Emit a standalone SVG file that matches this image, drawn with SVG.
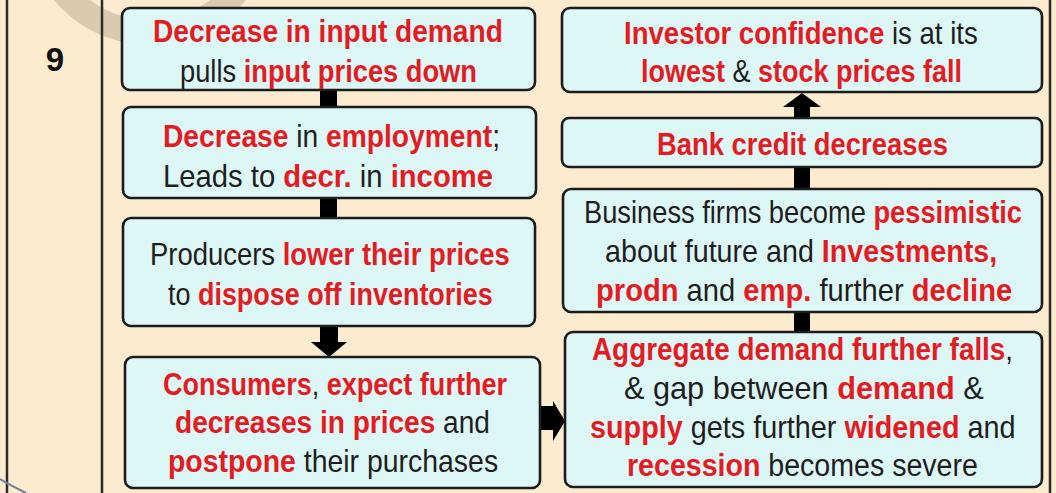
<svg xmlns="http://www.w3.org/2000/svg" width="1056" height="493" viewBox="0 0 1056 493">
<style>
.bg{fill:#fcebcf}
.frame{stroke:#2e2a26;stroke-width:2.5;fill:none}
.box{fill:#ddf6f6;stroke:#1c1c1c;stroke-width:2.6}
.t{font-family:"Liberation Sans",Arial,sans-serif;font-size:31px}
.r{fill:#e41b22;font-weight:bold}
.k{fill:#1e1e1e;font-weight:normal}
.bar{fill:#000}
.num{font-family:"Liberation Sans",Arial,sans-serif;font-size:33px;font-weight:bold;fill:#111;text-anchor:middle}
</style>
<rect class="bg" x="0" y="0" width="1056" height="493"/>
<g id="decor">
<circle cx="150" cy="-80" r="112.5" fill="none" stroke="#dbcab0" stroke-width="25"/>
<line class="frame" x1="7" y1="0" x2="7" y2="493"/>
<line class="frame" x1="102" y1="0" x2="102" y2="493" stroke-width="2"/>
<line class="frame" x1="1050" y1="0" x2="1050" y2="493"/>
<path d="M0,479 Q12,486 26,493" fill="none" stroke="#6f7f9e" stroke-width="2"/>
<text class="num" x="55" y="71">9</text>
</g>
<g id="connectors">
<rect class="bar" x="320" y="89" width="17" height="19"/>
<rect class="bar" x="320" y="197" width="17" height="22"/>
<rect class="bar" x="320" y="325" width="18" height="18"/>
<polygon class="bar" points="311,342 347,342 329,357"/>
<rect class="bar" x="539" y="406" width="15" height="24"/>
<polygon class="bar" points="553,401 553,441 565,421"/>
<rect class="bar" x="794" y="166" width="16" height="24"/>
<rect class="bar" x="794" y="311" width="16" height="22"/>
<rect class="bar" x="794" y="105" width="16" height="14"/>
<polygon class="bar" points="783,107 821,107 802,93"/>
</g>
<g id="node-input-demand">
<rect class="box" x="122" y="8" width="413" height="82" rx="8"/>
<text class="t" transform="translate(153,42) scale(0.907,1)"><tspan class="r">Decrease in input demand</tspan></text>
<text class="t" transform="translate(180,82) scale(0.880,1)"><tspan class="k">pulls </tspan><tspan class="r">input prices down</tspan></text>
</g>
<g id="node-employment">
<rect class="box" x="123" y="107" width="413" height="91" rx="8"/>
<text class="t" transform="translate(163,147) scale(0.910,1)"><tspan class="r">Decrease</tspan><tspan class="k"> in </tspan><tspan class="r">employment</tspan><tspan class="k">;</tspan></text>
<text class="t" transform="translate(163,187) scale(0.944,1)"><tspan class="k">Leads to </tspan><tspan class="r">decr.</tspan><tspan class="k"> in </tspan><tspan class="r">income</tspan></text>
</g>
<g id="node-producers">
<rect class="box" x="123" y="218" width="412" height="108" rx="8"/>
<text class="t" transform="translate(150,265) scale(0.885,1)"><tspan class="k">Producers </tspan><tspan class="r">lower their prices</tspan></text>
<text class="t" transform="translate(168,305) scale(0.869,1)"><tspan class="k">to </tspan><tspan class="r">dispose off inventories</tspan></text>
</g>
<g id="node-consumers">
<rect class="box" x="125" y="357" width="415" height="131" rx="8"/>
<text class="t" transform="translate(163,395) scale(0.872,1)"><tspan class="r">Consumers</tspan><tspan class="k">, </tspan><tspan class="r">expect further</tspan></text>
<text class="t" transform="translate(175,433) scale(0.905,1)"><tspan class="r">decreases in prices</tspan><tspan class="k"> and</tspan></text>
<text class="t" transform="translate(168,472) scale(0.917,1)"><tspan class="r">postpone</tspan><tspan class="k"> their purchases</tspan></text>
</g>
<g id="node-investor">
<rect class="box" x="562" y="8" width="480" height="84" rx="8"/>
<text class="t" transform="translate(624,44) scale(0.889,1)"><tspan class="r">Investor confidence</tspan><tspan class="k"> is at its</tspan></text>
<text class="t" transform="translate(641,82) scale(0.871,1)"><tspan class="r">lowest</tspan><tspan class="k"> &amp; </tspan><tspan class="r">stock prices fall</tspan></text>
</g>
<g id="node-bank-credit">
<rect class="box" x="562" y="118" width="480" height="49" rx="7"/>
<text class="t" transform="translate(657,155) scale(0.884,1)"><tspan class="r">Bank credit decreases</tspan></text>
</g>
<g id="node-business">
<rect class="box" x="563" y="189" width="479" height="123" rx="8"/>
<text class="t" transform="translate(584,223) scale(0.880,1)"><tspan class="k">Business firms become </tspan><tspan class="r">pessimistic</tspan></text>
<text class="t" transform="translate(605,262) scale(0.925,1)"><tspan class="k">about future and </tspan><tspan class="r">Investments,</tspan></text>
<text class="t" transform="translate(596,301) scale(0.940,1)"><tspan class="r">prodn</tspan><tspan class="k"> and </tspan><tspan class="r">emp.</tspan><tspan class="k"> further </tspan><tspan class="r">decline</tspan></text>
</g>
<g id="node-aggregate">
<rect class="box" x="565" y="332" width="477" height="155" rx="8"/>
<text class="t" transform="translate(592,360) scale(0.899,1)"><tspan class="r">Aggregate demand further falls</tspan><tspan class="k">,</tspan></text>
<text class="t" transform="translate(624,399) scale(0.990,1)"><tspan class="k">&amp; gap between </tspan><tspan class="r">demand</tspan><tspan class="k"> &amp;</tspan></text>
<text class="t" transform="translate(590,438) scale(0.929,1)"><tspan class="r">supply</tspan><tspan class="k"> gets further </tspan><tspan class="r">widened</tspan><tspan class="k"> and</tspan></text>
<text class="t" transform="translate(627,476) scale(0.922,1)"><tspan class="r">recession</tspan><tspan class="k"> becomes severe</tspan></text>
</g>
</svg>
